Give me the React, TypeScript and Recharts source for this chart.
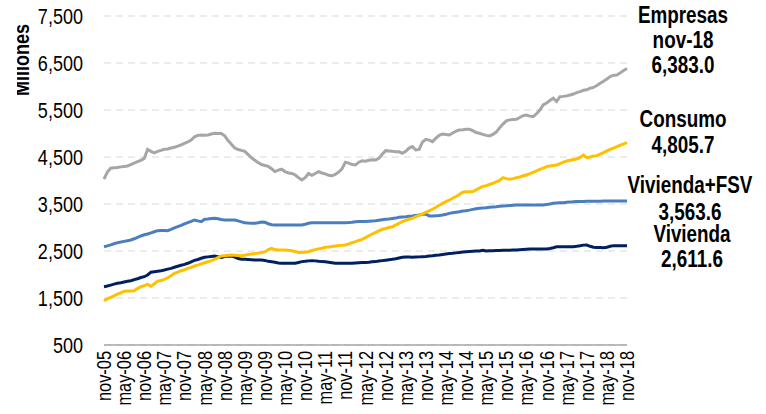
import { LineChart, Line, XAxis, YAxis, CartesianGrid } from "recharts"

const MESES = ["ene", "feb", "mar", "abr", "may", "jun", "jul", "ago", "sep", "oct", "nov", "dic"]

// nov-05 .. nov-18, monthly
const meses: string[] = []
for (let i = 0; i <= 156; i++) {
  const m = (10 + i) % 12
  const yy = 5 + Math.floor((10 + i) / 12)
  meses.push(`${MESES[m]}-${String(yy).padStart(2, "0")}`)
}

const empresas = [
  4030, 4180, 4260, 4270, 4275, 4290, 4300, 4310, 4340, 4370, 4400, 4430,
  4470, 4660, 4620, 4590, 4620, 4640, 4665, 4670, 4690, 4707, 4730, 4760,
  4790, 4820, 4860, 4930, 4960, 4970, 4965, 4970, 4990, 5005, 5000, 5000,
  4950, 4850, 4770, 4690, 4660, 4640, 4620, 4550, 4480, 4430, 4380, 4340,
  4320, 4300, 4250, 4190, 4220, 4240, 4190, 4160, 4150, 4120, 4060, 4010,
  4060, 4150, 4110, 4150, 4190, 4160, 4140, 4110, 4100, 4130, 4180, 4250,
  4390, 4370, 4340, 4330, 4390, 4420, 4410, 4430, 4440, 4437, 4470, 4560,
  4635, 4630, 4620, 4614, 4610, 4580, 4620, 4690, 4721, 4650, 4660, 4820,
  4877, 4860, 4827, 4900, 4960, 4990, 4980, 4969, 5010, 5050, 5075, 5080,
  5090, 5090, 5060, 5020, 5005, 4980, 4960, 4948, 4980, 5030, 5120, 5200,
  5270, 5290, 5300, 5303, 5340, 5380, 5394, 5370, 5358, 5420, 5500, 5607,
  5650, 5700, 5750, 5680, 5784, 5790, 5800, 5820, 5840, 5870, 5891, 5920,
  5930, 5963, 5980, 6020, 6069, 6110, 6160, 6211, 6240, 6246, 6290, 6340,
  6383.0,
]

const consumo = [
  1443, 1480, 1515, 1545, 1580, 1610, 1645, 1650, 1648, 1655, 1700, 1741,
  1760, 1795, 1750, 1800, 1860, 1870, 1898, 1930, 1975, 2026, 2050, 2081,
  2100, 2131, 2150, 2180, 2200, 2225, 2250, 2270, 2294, 2320, 2360, 2394,
  2400, 2410, 2415, 2410, 2405, 2400, 2410, 2425, 2437, 2445, 2455, 2466,
  2480, 2530, 2557, 2530, 2521, 2520, 2521, 2515, 2507, 2490, 2466, 2470,
  2480, 2486, 2510, 2530, 2545, 2560, 2579, 2585, 2595, 2607, 2615, 2620,
  2628, 2650, 2677, 2700, 2725, 2749, 2785, 2825, 2862, 2895, 2930, 2962,
  2980, 3000, 3017, 3050, 3090, 3124, 3150, 3175, 3196, 3230, 3260, 3288,
  3320, 3355, 3388, 3430, 3475, 3515, 3550, 3585, 3622, 3660, 3700, 3750,
  3763, 3763, 3765, 3800, 3840, 3875, 3890, 3915, 3941, 3970, 4000, 4061,
  4040, 4026, 4040, 4060, 4075, 4100, 4118, 4145, 4175, 4203, 4235, 4265,
  4295, 4310, 4320, 4330, 4360, 4390, 4415, 4430, 4445, 4458, 4490, 4540,
  4486, 4500, 4520, 4529, 4560, 4595, 4628, 4660, 4690, 4720, 4750, 4780,
  4805.7,
]

const viviendaFsv = [
  2592, 2610, 2630, 2655, 2677, 2690, 2705, 2720, 2734, 2760, 2790, 2820,
  2845, 2862, 2885, 2910, 2933, 2935, 2935, 2933, 2960, 2990, 3017, 3045,
  3075, 3103, 3130, 3160, 3140, 3124, 3174, 3180, 3190, 3196, 3185, 3170,
  3160, 3160, 3160, 3160, 3140, 3120, 3103, 3095, 3090, 3090, 3100, 3117,
  3110, 3080, 3060, 3053, 3053, 3053, 3053, 3053, 3053, 3053, 3053, 3053,
  3070, 3090, 3100, 3100, 3103, 3103, 3103, 3103, 3103, 3103, 3103, 3103,
  3103, 3105, 3110, 3124, 3130, 3128, 3130, 3135, 3140, 3145, 3155, 3165,
  3174, 3180, 3190, 3200, 3217, 3225, 3230, 3240, 3245, 3255, 3266, 3280,
  3288, 3245, 3245, 3250, 3255, 3266, 3280, 3300, 3316, 3325, 3335, 3350,
  3358, 3370, 3385, 3400, 3409, 3415, 3420, 3430, 3435, 3440, 3450, 3458,
  3462, 3468, 3474, 3479, 3479, 3479, 3479, 3479, 3479, 3479, 3479, 3479,
  3490, 3500, 3515, 3520, 3525, 3529, 3535, 3540, 3550, 3555, 3555, 3555,
  3558, 3558, 3560, 3560, 3560, 3562, 3562, 3562, 3563, 3563, 3563, 3564,
  3563.6,
]

const vivienda = [
  1741, 1755, 1775, 1795, 1813, 1825, 1840, 1855, 1868, 1890, 1910, 1935,
  1953, 1990, 2050, 2060, 2070, 2081, 2095, 2115, 2131, 2155, 2175, 2196,
  2215, 2239, 2270, 2300, 2320, 2345, 2366, 2375, 2385, 2394, 2380, 2365,
  2380, 2394, 2390, 2370, 2340, 2325, 2323, 2320, 2315, 2310, 2309, 2309,
  2300, 2280, 2270, 2260, 2245, 2239, 2239, 2239, 2239, 2239, 2255, 2274,
  2280, 2290, 2295, 2290, 2280, 2274, 2270, 2260, 2250, 2239, 2239, 2239,
  2239, 2239, 2239, 2245, 2250, 2255, 2255, 2260, 2270, 2274, 2285, 2295,
  2305, 2315, 2323, 2335, 2350, 2366, 2370, 2370, 2365, 2370, 2375, 2380,
  2385, 2395, 2400, 2410, 2415, 2425, 2435, 2445, 2451, 2460, 2470, 2480,
  2486, 2490, 2495, 2500, 2500, 2515, 2500, 2505, 2507, 2510, 2512, 2515,
  2517, 2518, 2520, 2521, 2525, 2530, 2535, 2540, 2543, 2543, 2543, 2543,
  2543, 2555, 2570, 2590, 2592, 2592, 2592, 2592, 2592, 2600, 2610, 2625,
  2628, 2600, 2580, 2575, 2573, 2571, 2580, 2600, 2614, 2614, 2612, 2612,
  2611.6,
]

const yTicks = [500, 1500, 2500, 3500, 4500, 5500, 6500, 7500]

const data = meses.map((mes, i) => ({
  mes,
  empresas: empresas[i],
  consumo: consumo[i],
  viviendaFsv: viviendaFsv[i],
  vivienda: vivienda[i],
}))

// no Arial Narrow here, so squeeze Liberation Sans horizontally
const FONT = '"Liberation Sans", Arial, sans-serif'
const NARROW = 0.82

const fmt0 = (v: number) => v.toLocaleString("en-US")
const fmt1 = (v: number) =>
  v.toLocaleString("en-US", { minimumFractionDigits: 1, maximumFractionDigits: 1 })

const last = (arr: number[]) => arr[arr.length - 1]

// end labels on the right side
const endLabels = [
  { x: 683, ys: [23, 48, 73], lines: ["Empresas", meses[meses.length - 1], fmt1(last(empresas))] },
  { x: 683, ys: [127, 153], lines: ["Consumo", fmt1(last(consumo))] },
  { x: 690, ys: [193, 220], lines: ["Vivienda+FSV", fmt1(last(viviendaFsv))] },
  { x: 692, ys: [242, 267], lines: ["Vivienda", fmt1(last(vivienda))] },
]

const XTick = (props: any) => {
  const { x, y, payload } = props
  return (
    <text
      transform={`translate(${x},${y}) rotate(-90) scale(${NARROW},1)`}
      textAnchor="end"
      dy="0.35em"
      fontSize={20}
      fontFamily={FONT}
      fill="#000"
    >
      {payload.value}
    </text>
  )
}

const YTick = (props: any) => {
  const { x, y, payload } = props
  return (
    <text
      transform={`translate(${x},${y}) scale(${NARROW},1)`}
      textAnchor="end"
      dy="0.36em"
      fontSize={22}
      fontFamily={FONT}
      fill="#000"
    >
      {fmt0(payload.value)}
    </text>
  )
}

export default function App() {
  return (
    <div style={{ position: "relative", width: 766, height: 414, background: "#fff" }}>
      <style>{"body{margin:0}"}</style>
      <LineChart
        width={766}
        height={414}
        data={data}
        margin={{ top: 16, right: 139, bottom: 0, left: 0 }}
      >
        <CartesianGrid
          vertical={false}
          stroke="#D9D9D9"
          strokeDasharray="7 5"
          strokeWidth={1}
        />
        <XAxis
          dataKey="mes"
          interval={5}
          height={69}
          tickLine={false}
          tickSize={0}
          tickMargin={6}
          axisLine={{ stroke: "#A6A6A6", strokeWidth: 1.5 }}
          tick={<XTick />}
        />
        <YAxis
          width={104}
          domain={[500, 7500]}
          ticks={yTicks}
          axisLine={false}
          tickLine={false}
          tickSize={0}
          tickMargin={21}
          tick={<YTick />}
        />
        <Line dataKey="vivienda" stroke="#002060" strokeWidth={3} dot={false} isAnimationActive={false} />
        <Line dataKey="viviendaFsv" stroke="#4A7EBF" strokeWidth={3} dot={false} isAnimationActive={false} />
        <Line dataKey="consumo" stroke="#FFC000" strokeWidth={3} dot={false} isAnimationActive={false} />
        <Line dataKey="empresas" stroke="#A6A6A6" strokeWidth={3} dot={false} isAnimationActive={false} />
      </LineChart>
      <svg
        width={766}
        height={414}
        style={{ position: "absolute", left: 0, top: 0, pointerEvents: "none" }}
      >
        {endLabels.map((g) =>
          g.lines.map((t, j) => (
            <text
              key={g.lines[0] + j}
              transform={`translate(${g.x},${g.ys[j]}) scale(${NARROW},1)`}
              textAnchor="middle"
              fontSize={23}
              fontWeight="bold"
              fontFamily={FONT}
              fill="#000"
            >
              {t}
            </text>
          ))
        )}
      </svg>
      <svg
        width={13}
        height={100}
        style={{ position: "absolute", left: 17, top: 10, pointerEvents: "none" }}
      >
        <text
          transform={`translate(12,50) rotate(-90) scale(${NARROW},1)`}
          textAnchor="middle"
          fontSize={22}
          fontWeight="bold"
          fontFamily={FONT}
          fill="#000"
        >
          Millones
        </text>
      </svg>
    </div>
  )
}
